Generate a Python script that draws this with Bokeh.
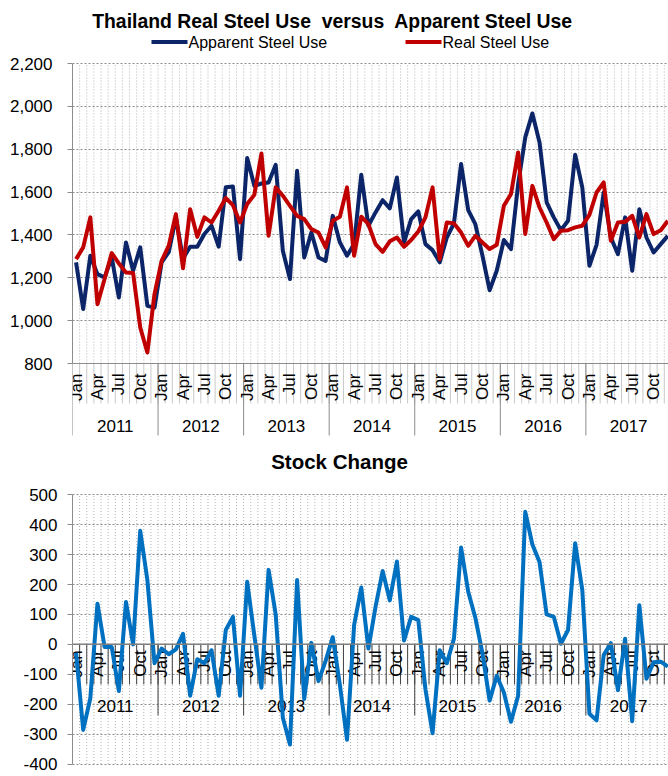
import math
from bokeh.plotting import figure
from bokeh.models import Range1d, FixedTicker, NumeralTickFormatter, Span
from bokeh.layouts import column
from bokeh.embed import file_html
from bokeh.resources import INLINE
from bokeh.core.properties import value

# ---------------- data ----------------
years = ["2011", "2012", "2013", "2014", "2015", "2016", "2017"]
months = ["Jan", "Feb", "Mar", "Apr", "May", "Jun", "Jul", "Aug", "Sep", "Oct", "Nov", "Dec"]
labelled_months = ["Jan", "Apr", "Jul", "Oct"]

apparent = [1272, 1054, 1303, 1217, 1201, 1295, 1108, 1365, 1233, 1342, 1069, 1061,
            1272, 1320, 1480, 1290, 1345, 1345, 1404, 1443, 1345, 1622, 1626, 1287,
            1759, 1629, 1640, 1645, 1727, 1326, 1194, 1699, 1295, 1411, 1295, 1279,
            1489, 1365, 1303, 1357, 1681, 1443, 1505, 1562, 1524, 1668, 1365, 1474,
            1510, 1357, 1329, 1272, 1388, 1454, 1731, 1516, 1450, 1303, 1142, 1233,
            1376, 1334, 1637, 1855, 1967, 1832, 1552, 1482, 1422, 1466, 1774, 1622,
            1256, 1354, 1598, 1388, 1310, 1482, 1233, 1520, 1388, 1318, 1357, 1396]

real = [1287, 1342, 1482, 1077, 1194, 1315, 1267, 1225, 1222, 968, 851, 1124,
        1279, 1350, 1497, 1245, 1520, 1391, 1482, 1458, 1513, 1572, 1539, 1458,
        1544, 1587, 1780, 1396, 1622, 1583, 1536, 1489, 1474, 1427, 1411, 1342,
        1466, 1485, 1622, 1303, 1485, 1450, 1357, 1321, 1370, 1388, 1345, 1376,
        1416, 1482, 1622, 1287, 1458, 1454, 1411, 1349, 1396, 1365, 1334, 1354,
        1536, 1591, 1785, 1404, 1629, 1528, 1458, 1380, 1419, 1422, 1435, 1443,
        1494, 1598, 1645, 1373, 1458, 1461, 1489, 1388, 1497, 1404, 1422, 1466]

stock = [-28, -286, -180, 136, -9, -9, -156, 142, 0, 380, 215, -63,
         -14, -33, -17, 35, -172, -50, -63, -20, -172, 48, 92, -172,
         209, 30, -145, 249, 100, -245, -335, 215, -183, 5, -123, -55,
         24, -135, -319, 65, 190, -14, 125, 245, 147, 277, 13, 92,
         81, -150, -297, -20, -63, 19, 324, 176, 89, -30, -188, -105,
         -161, -259, -172, 443, 334, 275, 100, 92, 2, 48, 338, 182,
         -232, -254, -36, 4, -153, 19, -257, 131, -115, -60, -58, -74]

top_ticks = [800, 1000, 1200, 1400, 1600, 1800, 2000, 2200]
stock_ticks = [-400, -300, -200, -100, 0, 100, 200, 300, 400, 500]

title_top = "Thailand Real Steel Use\u00a0 versus\u00a0 Apparent Steel Use"
title_bottom = "Stock Change"
legend_names = ["Apparent Steel Use", "Real Steel Use"]

# ---------------- styles / layout ----------------
FONT = "Liberation Sans"
NAVY = "#0b2568"
RED = "#c00000"
BLUE = "#0070c0"
GRID_H = "#8c8c8c"
GRID_V = "#b3b3b3"

W = 668
LEFT = 72
FRAME_W = W - LEFT
MONTH_PX = 7.13
n = len(apparent)
x_start = -0.5
x_end = x_start + FRAME_W / MONTH_PX
xs = list(range(n))
bounds = [i - 0.5 for i in range(1, n + 1)]
year_bounds = [12 * j - 0.5 for j in range(len(years) + 1)]
year_centers = [12 * j + 5.5 for j in range(len(years))]
label_x = [i for i in range(n) if months[i % 12] in labelled_months]
label_text = [months[i % 12] for i in label_x]


def xp(page_x):
    return x_start + (page_x - LEFT) / MONTH_PX


def style_yaxis(p, ticks, lo, hi, fmt, standoff):
    ax = p.yaxis[0]
    ax.ticker = FixedTicker(ticks=ticks)
    ax.bounds = (lo, hi)
    ax.formatter = NumeralTickFormatter(format=fmt)
    ax.major_label_text_font = FONT
    ax.major_label_text_font_size = "17px"
    ax.major_label_text_color = "#000000"
    ax.major_label_standoff = standoff
    ax.axis_line_color = GRID_H
    ax.major_tick_line_color = GRID_H
    ax.major_tick_out = 5
    ax.major_tick_in = 0
    ax.minor_tick_line_color = None
    p.ygrid.grid_line_color = GRID_H
    p.ygrid.grid_line_dash = "2 2"
    p.ygrid.grid_line_width = 1
    p.xgrid.grid_line_color = None


# ---------------- top chart (page y 0..445) ----------------
H1 = 445
Y2200, Y800 = 63.0, 363.0
k1 = (Y800 - Y2200) / 1400.0
y1_end = 2200 + Y2200 / k1
y1_start = 800 - (H1 - Y800) / k1


def y1(page_y):
    return 2200 - (page_y - Y2200) / k1


p1 = figure(width=W, height=H1, x_range=Range1d(x_start, x_end),
            y_range=Range1d(y1_start, y1_end), x_axis_location=None,
            title=None, toolbar_location=None, output_backend="svg",
            min_border_left=LEFT, min_border_right=0, min_border_top=0,
            min_border_bottom=0, outline_line_color=None)
style_yaxis(p1, top_ticks, 800, 2200, "0,0", 15)

p1.segment(x0=bounds, y0=[800] * n, x1=bounds, y1=[2200] * n,
           line_color=GRID_V, line_dash="1 2", line_width=1)
p1.segment(x0=bounds, y0=[800] * n, x1=bounds, y1=[y1(403)] * n,
           line_color="#c8c8c8", line_width=1)
p1.segment(x0=year_bounds, y0=[800] * len(year_bounds), x1=year_bounds,
           y1=[y1(435)] * len(year_bounds), line_color=GRID_H, line_width=1)
p1.add_layout(Span(location=800, dimension="width", line_color=GRID_H, line_width=1))

p1.text(x=label_x, y=[y1(373)] * len(label_x), text=label_text, angle=math.pi / 2,
        text_font=value(FONT), text_font_size=value("17px"), text_align="right",
        text_baseline="middle", text_color="#000000")
p1.text(x=year_centers, y=[y1(425)] * len(years), text=years,
        text_font=value(FONT), text_font_size=value("17px"), text_align="center",
        text_baseline="middle", text_color="#000000")

p1.line(xs, apparent, line_color=NAVY, line_width=4, line_join="round")
p1.line(xs, real, line_color=RED, line_width=4, line_join="round")

p1.text(x=[xp(332)], y=[y1(20)], text=[title_top], text_font=value(FONT),
        text_font_size=value("19.4px"), text_font_style="bold", text_align="center",
        text_baseline="middle", text_color="#000000")
p1.segment(x0=[xp(151), xp(405)], y0=[y1(41.5)] * 2, x1=[xp(187), xp(441)],
           y1=[y1(41.5)] * 2, line_color=[NAVY, RED], line_width=4)
p1.text(x=[xp(188), xp(442)], y=[y1(41.5)] * 2, text=legend_names,
        text_font=value(FONT), text_font_size=value("16px"), text_align="left",
        text_baseline="middle", text_color="#000000")

# ---------------- bottom chart (page y 445..776) ----------------
H2 = 331
TOP2 = H1
Y500, YM400 = 494.3, 763.5
k2 = (YM400 - Y500) / 900.0
y2_end = 500 + (Y500 - TOP2) / k2
y2_start = -400 - (TOP2 + H2 - YM400) / k2
zero_page = Y500 + 500 * k2


def y2(page_y):
    return 500 - (page_y - Y500) / k2


p2 = figure(width=W, height=H2, x_range=Range1d(x_start, x_end),
            y_range=Range1d(y2_start, y2_end), x_axis_location=None,
            title=None, toolbar_location=None, output_backend="svg",
            min_border_left=LEFT, min_border_right=0, min_border_top=0,
            min_border_bottom=0, outline_line_color=None)
style_yaxis(p2, stock_ticks, -400, 500, "0", 10)

p2.segment(x0=bounds, y0=[-400] * n, x1=bounds, y1=[500] * n,
           line_color=GRID_V, line_dash="1 2", line_width=1)
p2.segment(x0=bounds, y0=[0] * n, x1=bounds, y1=[y2(zero_page + 40)] * n,
           line_color="#404040", line_width=1)
p2.segment(x0=year_bounds, y0=[0] * len(year_bounds), x1=year_bounds,
           y1=[y2(zero_page + 71)] * len(year_bounds), line_color="#404040", line_width=1)
p2.add_layout(Span(location=0, dimension="width", line_color="#7f7f7f", line_width=1.5))

p2.text(x=label_x, y=[y2(zero_page + 6)] * len(label_x), text=label_text,
        angle=math.pi / 2, text_font=value(FONT), text_font_size=value("17px"),
        text_align="right", text_baseline="middle", text_color="#000000")
p2.text(x=year_centers, y=[y2(zero_page + 62)] * len(years), text=years,
        text_font=value(FONT), text_font_size=value("17px"), text_align="center",
        text_baseline="middle", text_color="#000000")

p2.line(xs, stock, line_color=BLUE, line_width=4, line_join="round")

p2.text(x=[xp(339)], y=[y2(461)], text=[title_bottom], text_font=value(FONT),
        text_font_size=value("20.5px"), text_font_style="bold", text_align="center",
        text_baseline="middle", text_color="#000000")

layout = column(p1, p2, spacing=0)
open("out.html", "w").write(file_html(layout, INLINE))
